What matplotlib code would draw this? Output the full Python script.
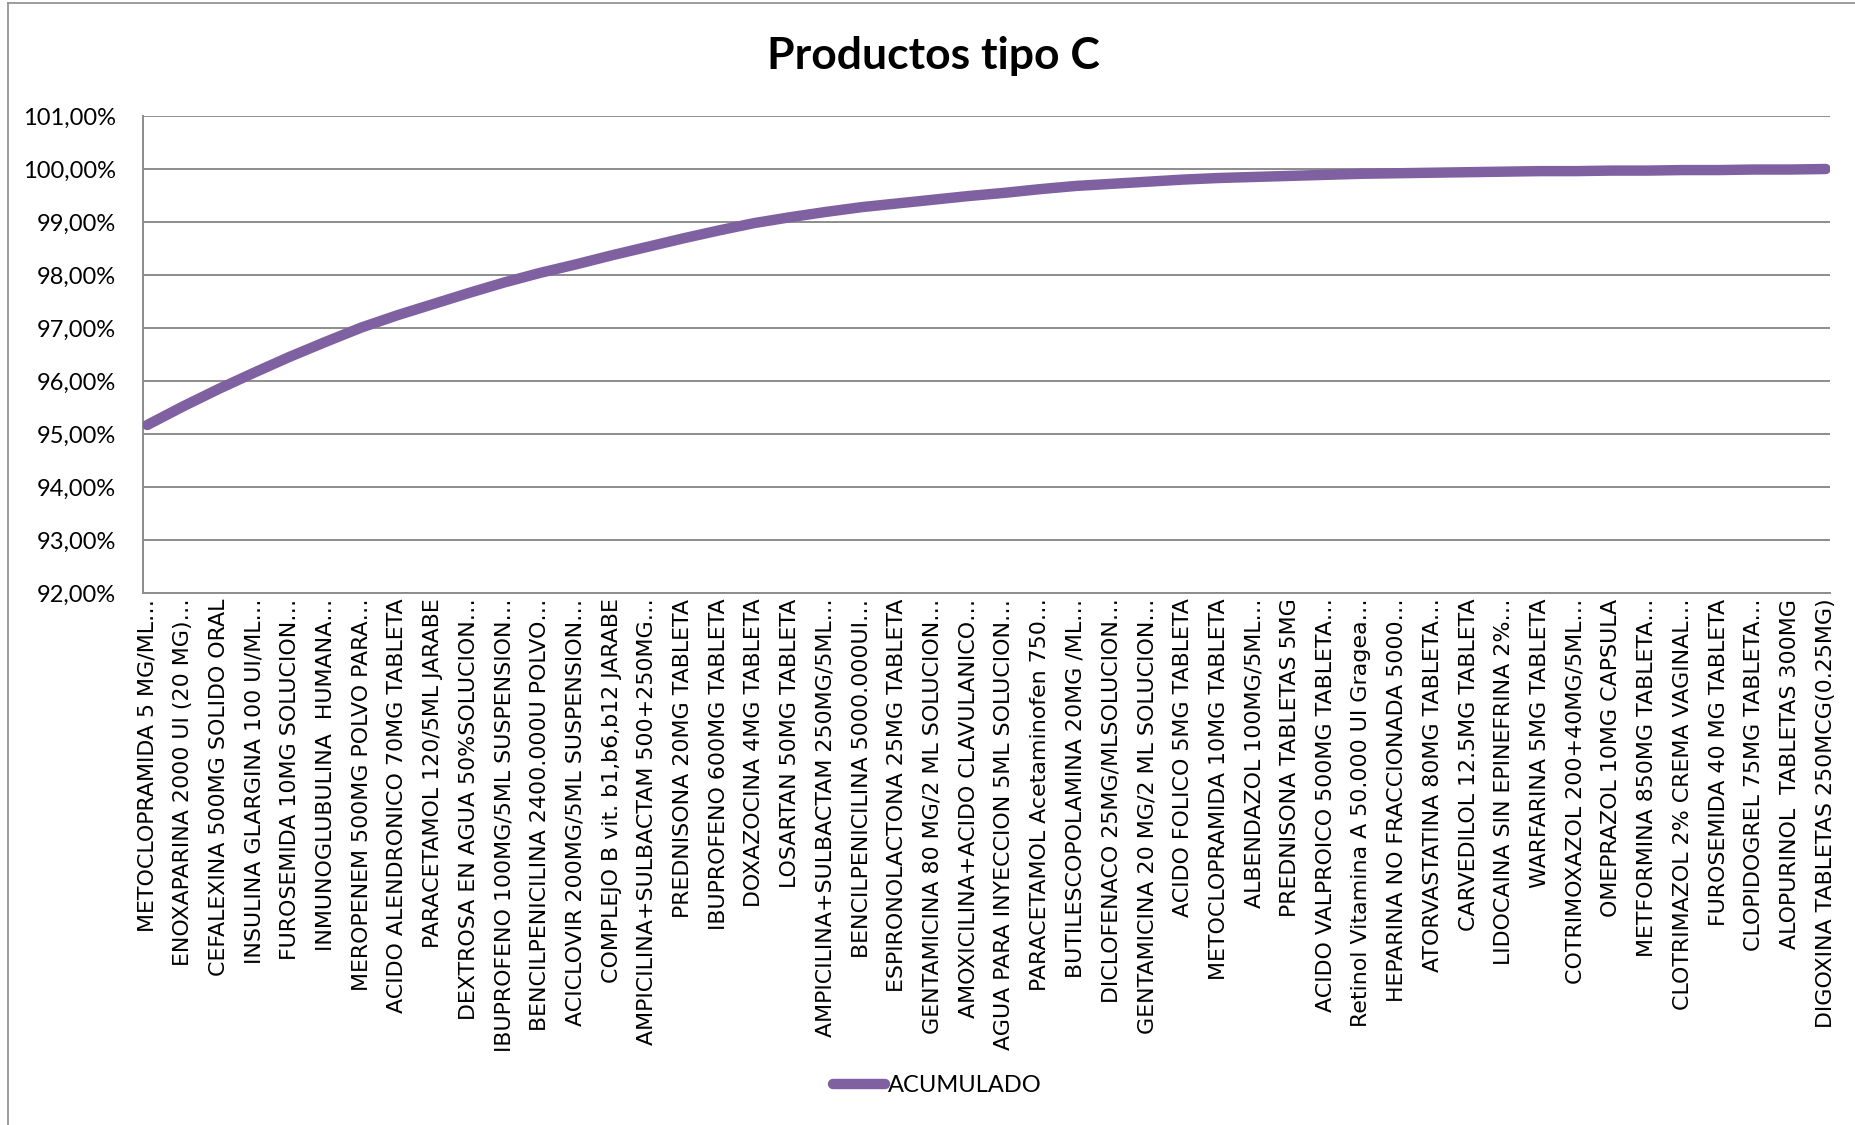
import matplotlib
matplotlib.use("Agg")
import matplotlib.pyplot as plt
from matplotlib.lines import Line2D
from matplotlib.ticker import FuncFormatter, MultipleLocator

productos = [
    "METOCLOPRAMIDA 5 MG/ML…",
    "ENOXAPARINA 2000 UI (20 MG)…",
    "CEFALEXINA 500MG SOLIDO ORAL",
    "INSULINA GLARGINA 100 UI/ML…",
    "FUROSEMIDA 10MG SOLUCION…",
    "INMUNOGLUBULINA  HUMANA…",
    "MEROPENEM 500MG POLVO PARA…",
    "ACIDO ALENDRONICO 70MG TABLETA",
    "PARACETAMOL 120/5ML JARABE",
    "DEXTROSA EN AGUA 50%SOLUCION…",
    "IBUPROFENO 100MG/5ML SUSPENSION…",
    "BENCILPENICILINA 2400.000U POLVO…",
    "ACICLOVIR 200MG/5ML SUSPENSION…",
    "COMPLEJO B vit. b1,b6,b12 JARABE",
    "AMPICILINA+SULBACTAM 500+250MG…",
    "PREDNISONA 20MG TABLETA",
    "IBUPROFENO 600MG TABLETA",
    "DOXAZOCINA 4MG TABLETA",
    "LOSARTAN 50MG TABLETA",
    "AMPICILINA+SULBACTAM 250MG/5ML…",
    "BENCILPENICILINA 5000.000UI…",
    "ESPIRONOLACTONA 25MG TABLETA",
    "GENTAMICINA 80 MG/2 ML SOLUCION…",
    "AMOXICILINA+ACIDO CLAVULANICO…",
    "AGUA PARA INYECCION 5ML SOLUCION…",
    "PARACETAMOL Acetaminofen 750…",
    "BUTILESCOPOLAMINA 20MG /ML…",
    "DICLOFENACO 25MG/MLSOLUCION…",
    "GENTAMICINA 20 MG/2 ML SOLUCION…",
    "ACIDO FOLICO 5MG TABLETA",
    "METOCLOPRAMIDA 10MG TABLETA",
    "ALBENDAZOL 100MG/5ML…",
    "PREDNISONA TABLETAS 5MG",
    "ACIDO VALPROICO 500MG TABLETA…",
    "Retinol Vitamina A 50.000 UI Gragea…",
    "HEPARINA NO FRACCIONADA 5000…",
    "ATORVASTATINA 80MG TABLETA…",
    "CARVEDILOL 12.5MG TABLETA",
    "LIDOCAINA SIN EPINEFRINA 2%…",
    "WARFARINA 5MG TABLETA",
    "COTRIMOXAZOL 200+40MG/5ML…",
    "OMEPRAZOL 10MG CAPSULA",
    "METFORMINA 850MG TABLETA…",
    "CLOTRIMAZOL 2% CREMA VAGINAL…",
    "FUROSEMIDA 40 MG TABLETA",
    "CLOPIDOGREL 75MG TABLETA…",
    "ALOPURINOL  TABLETAS 300MG",
    "DIGOXINA TABLETAS 250MCG(0.25MG)",
]

acumulado = [
    95.17, 95.52, 95.85, 96.16, 96.46, 96.74, 97.01, 97.24, 97.45, 97.66,
    97.86, 98.04, 98.20, 98.37, 98.53, 98.69, 98.84, 98.98, 99.09, 99.19,
    99.28, 99.35, 99.42, 99.49, 99.55, 99.62, 99.68, 99.72, 99.76, 99.80,
    99.83, 99.85, 99.87, 99.89, 99.91, 99.92, 99.93, 99.94, 99.95, 99.96,
    99.96, 99.97, 99.97, 99.98, 99.98, 99.99, 99.99, 100.00,
]

y_min, y_max, y_step = 92.0, 101.0, 1.0

W, H = 1856, 1125
fig = plt.figure(figsize=(W / 100, H / 100), dpi=100)
fig.patch.set_facecolor("white")

left, right, top, bottom = 143, 1830, 116, 593
ax = fig.add_axes([left / W, 1 - bottom / H, (right - left) / W, (bottom - top) / H])

x = list(range(len(productos)))
line_color = "#7F60A0"
ax.plot(x, acumulado, color=line_color, linewidth=7.5,
        solid_capstyle="round", solid_joinstyle="round", label="ACUMULADO",
        zorder=3)

ax.set_xlim(-0.12, len(productos) - 1 + 0.12)
ax.set_ylim(y_min, y_max)
ax.yaxis.set_major_locator(MultipleLocator(y_step))
ax.yaxis.set_major_formatter(
    FuncFormatter(lambda v, _: f"{v:.2f}".replace(".", ",") + "%"))
ax.grid(axis="y", color="#8C8C8C", linewidth=1.4, zorder=1)
ax.set_axisbelow(True)

for side in ("top", "right"):
    ax.spines[side].set_visible(False)
for side in ("left", "bottom"):
    ax.spines[side].set_color("#8C8C8C")
    ax.spines[side].set_linewidth(1.4)

ax.tick_params(axis="y", length=0, pad=19.5, labelsize=17)
for lbl in ax.get_yticklabels():
    lbl.set_fontfamily("Lato")

ax.set_xticks(x)
ax.set_xticklabels(productos, rotation=90, fontsize=15.9,
                   fontfamily="DejaVu Sans", ha="center", va="top")
ax.tick_params(axis="x", length=0, pad=4)

fig.text(0.503, 1 - 56 / H, "Productos tipo C", ha="center", va="center",
         fontsize=32, fontweight="bold", fontfamily="Lato")

leg = fig.legend(loc="center", bbox_to_anchor=(0.505, 1 - 1086 / H),
                 frameon=False, prop={"family": "Lato", "size": 17},
                 handlelength=2.2, handletextpad=0.1)
for h in leg.get_lines():
    h.set_linewidth(7.5)
    h.set_solid_capstyle("round")

# chart frame
fig.add_artist(Line2D([8 / W, 8 / W], [0, 1 - 3 / H], transform=fig.transFigure,
                      color="#8C8C8C", linewidth=1.2))
fig.add_artist(Line2D([8 / W, 1], [1 - 3 / H, 1 - 3 / H], transform=fig.transFigure,
                      color="#8C8C8C", linewidth=1.2))

fig.savefig("out.png", dpi=100, facecolor="white")
